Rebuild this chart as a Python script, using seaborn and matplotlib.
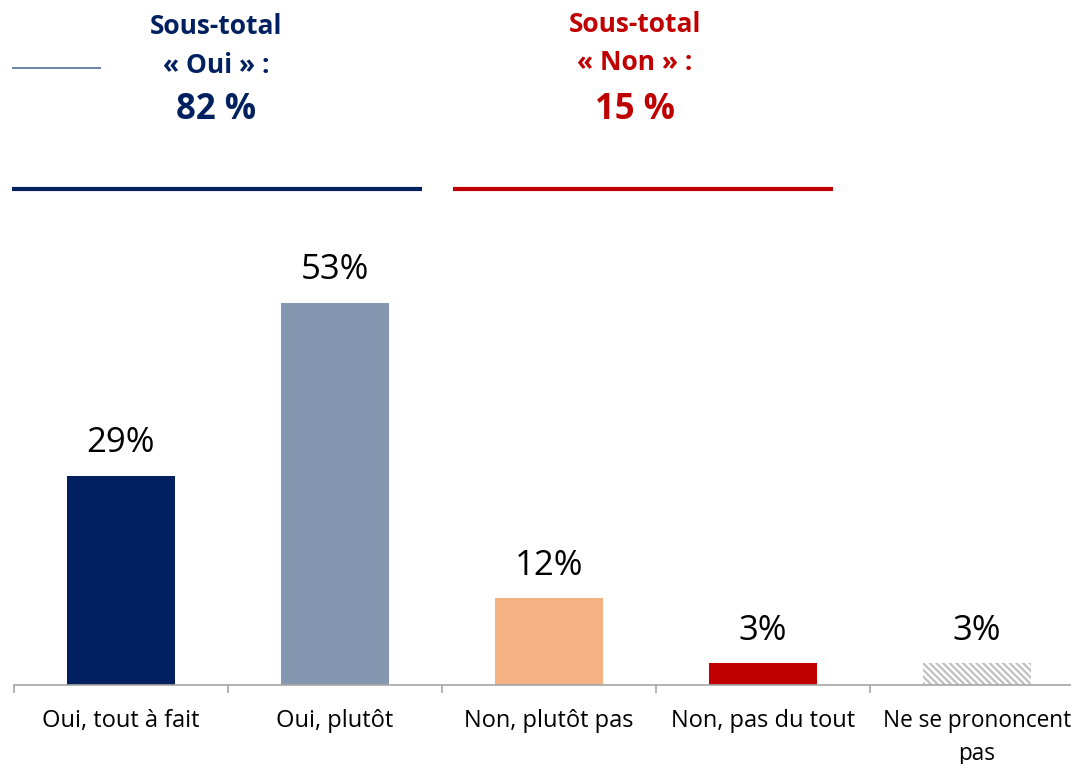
import matplotlib
matplotlib.use("Agg")
import matplotlib.pyplot as plt
import seaborn as sns
import pandas as pd
from matplotlib.lines import Line2D
from matplotlib.ticker import FixedLocator

categories = ["Oui, tout à fait", "Oui, plutôt", "Non, plutôt pas", "Non, pas du tout", "Ne se prononcent\npas"]
values = [29, 53, 12, 3, 3]
value_labels = ["29%", "53%", "12%", "3%", "3%"]
colors = ["#002060", "#8497B0", "#F4B183", "#C00000", "#FFFFFF"]
subtotal_oui = "82 %"
subtotal_non = "15 %"

sns.set_theme(style="white")
plt.rcParams["font.family"] = ["Open Sans", "DejaVu Sans"]
plt.rcParams["hatch.linewidth"] = 1.6

df = pd.DataFrame({"cat": categories, "val": values})

W, H = 1071, 764
fig = plt.figure(figsize=(W / 100, H / 100), dpi=100)
ax = fig.add_axes([14 / W, (H - 685) / H, 1070 / W, 433 / H])

sns.barplot(data=df, x="cat", y="val", hue="cat", palette=colors, legend=False,
            width=0.505, saturation=1, ax=ax)

patches = ax.patches
for p in patches:
    p.set_edgecolor("none")
p = patches[4]
p.set_facecolor("#FFFFFF")
p.set_edgecolor("#BFBFBF")
p.set_hatch("\\\\\\\\\\")
p.set_linewidth(0)

for p, lab in zip(patches, value_labels):
    ax.annotate(lab, (p.get_x() + p.get_width() / 2, p.get_height()),
                xytext=(0, 17), textcoords="offset points",
                ha="center", va="baseline", fontsize=25, color="#000000")

ax.set_xlim(-0.5, 4.5)
ax.set_ylim(0, 60)
ax.set_xlabel("")
ax.set_ylabel("")
ax.set_yticks([])
for s in ["top", "right", "left"]:
    ax.spines[s].set_visible(False)
ax.spines["bottom"].set_color("#A6A6A6")
ax.spines["bottom"].set_linewidth(1.2)
ax.tick_params(axis="x", which="major", length=0, pad=17, labelsize=17, labelcolor="#000000")
ax.xaxis.set_minor_locator(FixedLocator([-0.5, 0.5, 1.5, 2.5, 3.5, 4.5]))
ax.tick_params(axis="x", which="minor", bottom=True, length=6, width=1.2, color="#A6A6A6", direction="out")
for t in ax.get_xticklabels():
    t.set_linespacing(1.5)
ax.get_xticklabels()[4].set_fontsize(16.3)

navy = "#002060"
red = "#C00000"

def fy(px):
    return 1 - px / H

fig.add_artist(Line2D([12 / W, 422 / W], [fy(189), fy(189)], color=navy, lw=3, solid_capstyle="butt"))
fig.add_artist(Line2D([453 / W, 833 / W], [fy(189), fy(189)], color=red, lw=3, solid_capstyle="butt"))
fig.add_artist(Line2D([12 / W, 101 / W], [fy(68), fy(68)], color="#4F6F99", lw=1.2, solid_capstyle="butt"))

fig.text(216 / W, fy(34), "Sous-total", ha="center", va="baseline", fontsize=19, fontweight="bold", color=navy)
fig.text(216 / W, fy(73), "« Oui » :", ha="center", va="baseline", fontsize=19, fontweight="bold", color=navy)
fig.text(216 / W, fy(119), subtotal_oui, ha="center", va="baseline", fontsize=25, fontweight="bold", color=navy)
fig.text(635 / W, fy(32), "Sous-total", ha="center", va="baseline", fontsize=19, fontweight="bold", color=red)
fig.text(635 / W, fy(70), "« Non » :", ha="center", va="baseline", fontsize=19, fontweight="bold", color=red)
fig.text(635 / W, fy(119), subtotal_non, ha="center", va="baseline", fontsize=25, fontweight="bold", color=red)

fig.savefig("out.png", dpi=100)
